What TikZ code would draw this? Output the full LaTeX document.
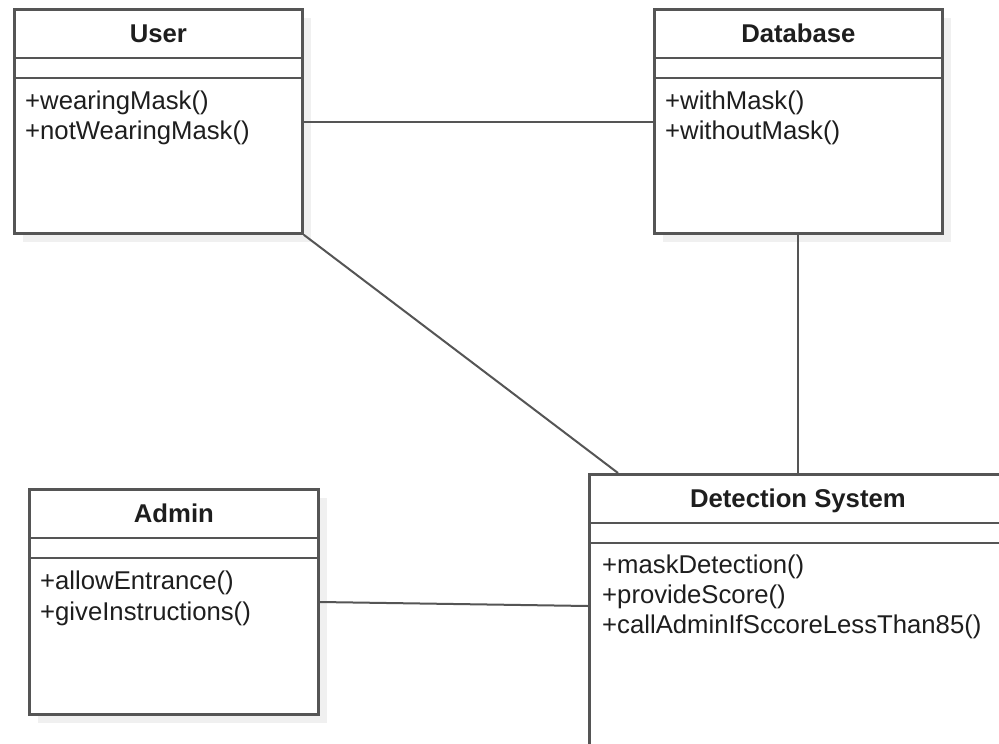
\documentclass[tikz,border=0pt]{standalone}
\usepackage{fontspec}
\setmainfont{Liberation Sans}
\usetikzlibrary{positioning,shadows}

\definecolor{umlline}{RGB}{85,85,85}
\definecolor{umltext}{RGB}{30,30,30}

\begin{document}
\begin{tikzpicture}[x=1pt, y=-1pt,
    classbox/.style={draw=umlline, line width=2.8pt, fill=white, anchor=north west, inner sep=0pt,
      drop shadow={shadow xshift=9pt, shadow yshift=-9pt, fill=black!6, opacity=1}},
    compart/.style={draw=umlline, line width=2.8pt},
    classname/.style={anchor=base, inner sep=0pt, text=umltext, font=\fontsize{25.7}{30}\selectfont\bfseries},
    method/.style={anchor=base west, inner sep=0pt, text=umltext, font=\fontsize{25.7}{30}\selectfont},
    link/.style={draw=umlline, line width=2pt}]
    \useasboundingbox (0, 0) rectangle (999, 744);
    \clip (0, 0) rectangle (999, 744);
    \fill[white] (0, 0) rectangle (999, 744);

    % classes
    \node[classbox, minimum width=288pt, minimum height=224pt] (user) at (13, 8) {};
    \node[classbox, minimum width=288pt, minimum height=224pt] (database) at (653, 8) {};
    \node[classbox, minimum width=289pt, minimum height=225pt] (admin) at (28, 488) {};
    \node[classbox, minimum width=417pt, minimum height=282pt] (detect) at (588, 473) {};

    % compartments
    \foreach \cls in {user, database, admin, detect} {
      \draw[compart] ([yshift=-50pt]\cls.north west) -- ([yshift=-50pt]\cls.north east);
      \draw[compart] ([yshift=-70pt]\cls.north west) -- ([yshift=-70pt]\cls.north east);
    }

    % names
    \node[classname] (usertitle) at ([yshift=-34pt]user.north) {User};
    \node[classname] (databasetitle) at ([yshift=-34pt]database.north) {Database};
    \node[classname] (admintitle) at ([yshift=-34pt]admin.north) {Admin};
    \node[classname] (detecttitle) at ([yshift=-34pt]detect.north) {Detection System};

    % operations
    \node[method] (userop1) at ([xshift=12pt, yshift=-101pt]user.north west) {+wearingMask()};
    \node[method] (userop2) at ([yshift=-30pt]userop1.base west) {+notWearingMask()};
    \node[method] (dbop1) at ([xshift=12pt, yshift=-101pt]database.north west) {+withMask()};
    \node[method] (dbop2) at ([yshift=-30pt]dbop1.base west) {+withoutMask()};
    \node[method] (adminop1) at ([xshift=12pt, yshift=-101pt]admin.north west) {+allowEntrance()};
    \node[method] (adminop2) at ([yshift=-31pt]adminop1.base west) {+giveInstructions()};
    \node[method] (detectop1) at ([xshift=14pt, yshift=-100pt]detect.north west) {+maskDetection()};
    \node[method] (detectop2) at ([yshift=-30pt]detectop1.base west) {+provideScore()};
    \node[method] (detectop3) at ([yshift=-30pt]detectop2.base west) {+callAdminIfSccoreLessThan85()};

    % associations
    \draw[link] ([yshift=-114pt]user.north east) -- ([yshift=-114pt]database.north west);
    \draw[link] (user.south east) -- ([xshift=30pt]detect.north west);
    \draw[link] (database.south) -- (database.south |- detect.north);
    \draw[link] ([yshift=-114pt]admin.north east) -- ([yshift=-133pt]detect.north west);
  \end{tikzpicture}
\end{document}
